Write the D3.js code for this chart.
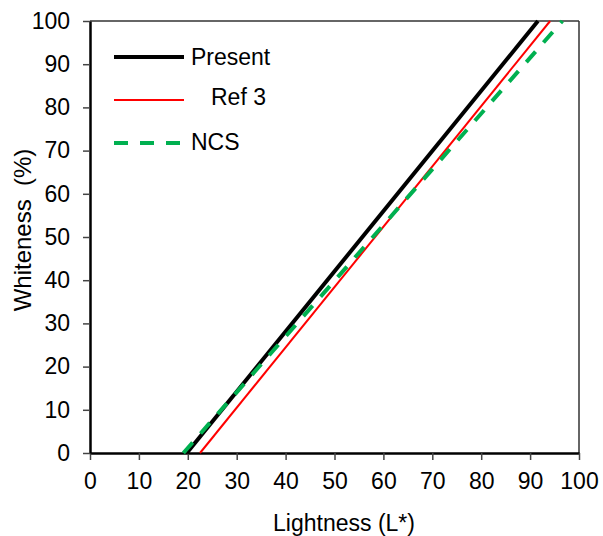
<!DOCTYPE html>
<html><head><meta charset="utf-8">
<script src="https://cdn.jsdelivr.net/npm/d3@7"></script>
<style>
body{margin:0;background:#fff;}
svg{display:block;font-family:"Liberation Sans",Arial,sans-serif;}
</style></head>
<body><svg id="c" width="603" height="536"></svg>
<script>
const xTicks = [0,10,20,30,40,50,60,70,80,90,100];
const yTicks = [0,10,20,30,40,50,60,70,80,90,100];
const seriesNames = ["Present","Ref 3","NCS"];
const presentL = [19.8, 91.6];
const presentW = [0, 100];
const ref3L = [22.5, 94.1];
const ref3W = [0, 100];
const ncsL = [19.1, 96.6];
const ncsW = [0, 100];

const svg = d3.select("#c");
const x = d3.scaleLinear().domain([0,100]).range([90,579]);
const y = d3.scaleLinear().domain([0,100]).range([453,21]);

// top & right frame
svg.append("line").attr("x1",x(0)).attr("x2",x(100)).attr("y1",y(100)).attr("y2",y(100)).attr("stroke","#333").attr("stroke-width",1.5);
svg.append("line").attr("x1",x(100)).attr("x2",x(100)).attr("y1",y(0)).attr("y2",y(100)).attr("stroke","#333").attr("stroke-width",1.5);

const xa = svg.append("g").attr("transform",`translate(0,${y(0)})`)
  .call(d3.axisBottom(x).tickValues(xTicks).tickSize(7).tickPadding(13).tickSizeOuter(0));
const ya = svg.append("g").attr("transform",`translate(${x(0)},0)`)
  .call(d3.axisLeft(y).tickValues(yTicks).tickSize(7).tickPadding(13).tickSizeOuter(0));
[xa,ya].forEach(a=>{
  a.select(".domain").attr("stroke","#000").attr("stroke-width",2.5);
  a.selectAll(".tick line").attr("stroke","#444").attr("stroke-width",1.5);
  a.selectAll(".tick text").attr("font-size",23).attr("fill","#000").attr("font-family","Liberation Sans, Arial, sans-serif");
});

svg.append("text").attr("x",344).attr("y",531).attr("text-anchor","middle").attr("font-size",23).text("Lightness (L*)");
svg.append("text").attr("transform","translate(31,230) rotate(-90)").attr("text-anchor","middle").attr("font-size",24).attr("xml:space","preserve").style("white-space","pre").text("Whiteness  (%)");

const line = d3.line().x(d=>x(d[0])).y(d=>y(d[1]));
const styles = [
  {L:presentL,W:presentW,color:"#000000",w:4,dash:null},
  {L:ref3L,W:ref3W,color:"#ff0000",w:2,dash:null},
  {L:ncsL,W:ncsW,color:"#00b050",w:4,dash:"14,12"}
];
styles.forEach(s=>{
  const pts = s.L.map((l,i)=>[l,s.W[i]]);
  svg.append("path").attr("d",line(pts)).attr("fill","none").attr("stroke",s.color).attr("stroke-width",s.w).attr("stroke-dasharray",s.dash);
});

// legend
const legY = [57,100,143];
const legTextX = [191,211,191];
const legBase = [65,105,150];
styles.forEach((s,i)=>{
  svg.append("line").attr("x1",114).attr("x2",184).attr("y1",legY[i]).attr("y2",legY[i]).attr("stroke",s.color).attr("stroke-width",s.w).attr("stroke-dasharray",s.dash);
  svg.append("text").attr("x",legTextX[i]).attr("y",legBase[i]).attr("font-size",23).text(seriesNames[i]);
});
</script></body></html>
